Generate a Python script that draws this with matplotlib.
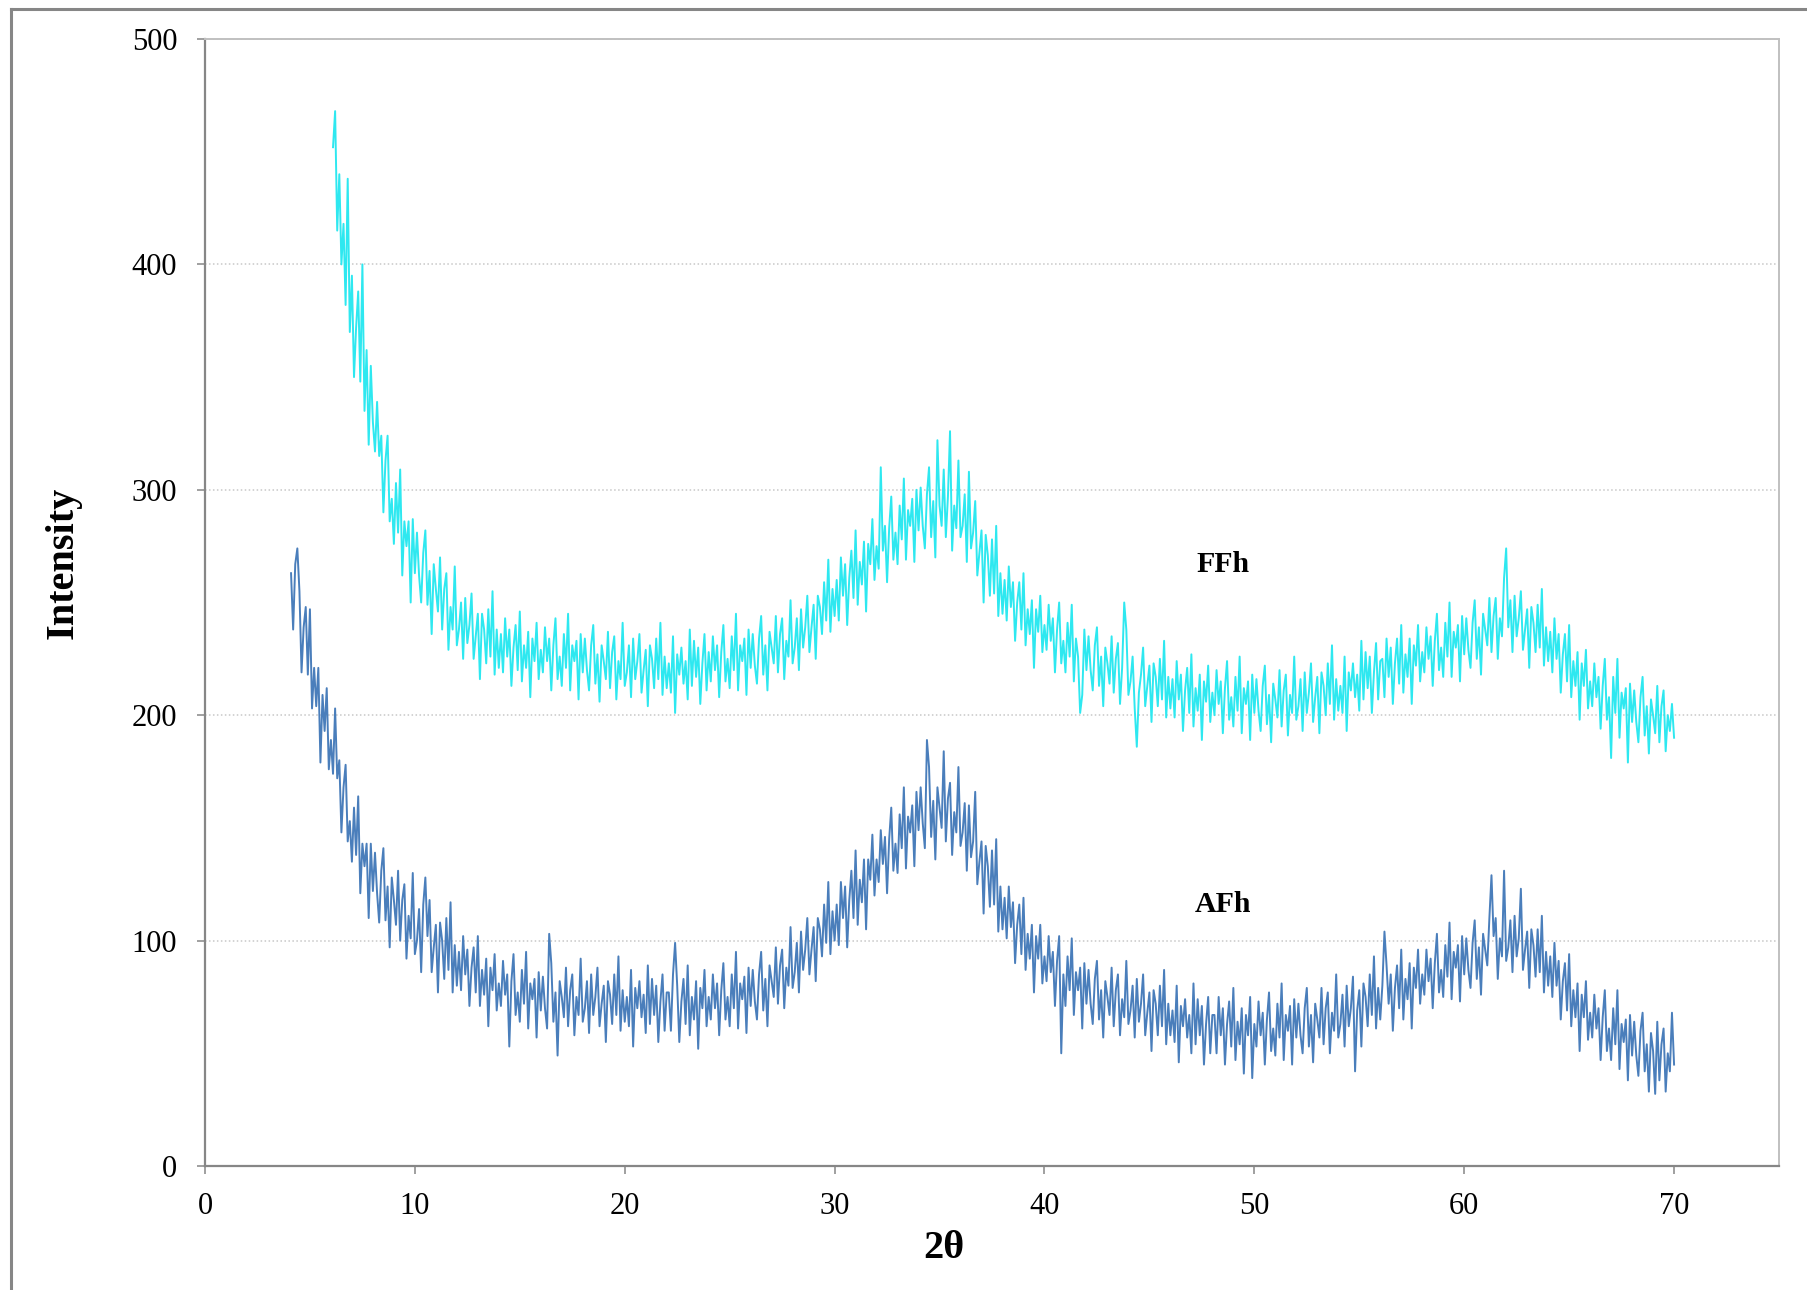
import numpy as np
import matplotlib
matplotlib.use("Agg")
import matplotlib.pyplot as plt
from matplotlib.lines import Line2D

# XRD scans, step 0.1 deg 2theta, intensities
ffh_start = 6.1
ffh_int = [
    452, 468, 415, 440, 400, 418, 382, 438, 370, 395, 350, 372, 388, 348, 400, 335, 362, 320, 355, 330,
    317, 339, 315, 324, 290, 313, 324, 286, 296, 276, 303, 281, 309, 262, 286, 275, 286, 250, 287, 263,
    281, 262, 250, 272, 282, 249, 264, 236, 267, 256, 246, 270, 238, 256, 263, 229, 248, 238, 266, 231,
    238, 250, 225, 252, 232, 240, 254, 225, 235, 245, 216, 245, 238, 223, 247, 226, 255, 218, 238, 221,
    236, 219, 243, 226, 238, 213, 230, 240, 220, 246, 215, 231, 221, 237, 208, 234, 224, 241, 216, 229,
    219, 239, 224, 234, 211, 231, 243, 216, 226, 213, 236, 221, 245, 211, 231, 224, 233, 207, 236, 219,
    234, 220, 211, 231, 240, 214, 227, 206, 231, 224, 216, 237, 212, 228, 235, 207, 224, 216, 241, 213,
    219, 231, 208, 234, 216, 224, 236, 210, 220, 229, 204, 231, 225, 212, 234, 216, 241, 209, 226, 212,
    223, 210, 235, 201, 227, 218, 230, 214, 224, 207, 238, 213, 233, 217, 230, 205, 223, 236, 211, 228,
    215, 235, 220, 231, 208, 228, 240, 215, 225, 212, 235, 220, 245, 211, 231, 224, 234, 209, 238, 221,
    236, 222, 214, 234, 244, 218, 231, 211, 237, 230, 223, 244, 219, 236, 243, 216, 233, 226, 251, 223,
    230, 243, 220, 247, 230, 239, 253, 228, 239, 249, 225, 253, 248, 236, 259, 242, 269, 237, 256, 244,
    260, 242, 270, 253, 267, 240, 261, 273, 252, 282, 249, 268, 258, 277, 246, 276, 267, 287, 260, 275,
    265, 310, 273, 284, 259, 283, 297, 269, 281, 267, 293, 278, 305, 269, 291, 284, 296, 268, 300, 282,
    301, 284, 274, 298, 310, 279, 295, 270, 322, 293, 284, 309, 279, 297, 326, 273, 293, 283, 313, 279,
    284, 298, 268, 308, 274, 281, 295, 262, 272, 282, 250, 280, 271, 253, 278, 254, 284, 244, 263, 245,
    260, 242, 266, 248, 259, 233, 250, 259, 238, 263, 231, 247, 236, 251, 221, 247, 237, 253, 228, 240,
    229, 249, 233, 243, 219, 238, 250, 223, 233, 219, 241, 226, 249, 215, 234, 226, 201, 209, 238, 220,
    235, 220, 211, 231, 239, 213, 226, 204, 230, 223, 214, 235, 210, 225, 232, 205, 221, 250, 238, 209,
    215, 226, 203, 186, 210, 218, 230, 204, 213, 222, 197, 223, 217, 204, 225, 207, 233, 199, 217, 203,
    216, 199, 224, 207, 218, 193, 211, 221, 201, 227, 195, 212, 202, 218, 189, 215, 206, 222, 197, 210,
    200, 220, 205, 215, 192, 212, 224, 198, 208, 195, 217, 202, 226, 192, 212, 205, 215, 189, 218, 201,
    216, 202, 193, 213, 222, 196, 209, 188, 214, 207, 199, 220, 195, 211, 218, 191, 209, 201, 226, 198,
    204, 216, 193, 219, 201, 210, 223, 197, 208, 217, 192, 219, 213, 200, 223, 205, 231, 198, 216, 202,
    213, 201, 226, 193, 219, 211, 223, 208, 218, 202, 233, 207, 228, 212, 226, 201, 219, 232, 207, 224,
    225, 208, 234, 217, 230, 205, 223, 234, 214, 240, 210, 227, 217, 234, 205, 231, 222, 240, 215, 228,
    219, 239, 225, 235, 213, 233, 245, 220, 230, 217, 241, 226, 250, 217, 237, 230, 240, 215, 244, 227,
    243, 229, 221, 241, 251, 225, 239, 218, 245, 238, 231, 252, 228, 244, 252, 225, 243, 235, 261, 274,
    239, 251, 228, 253, 235, 243, 255, 229, 238, 247, 221, 248, 241, 228, 249, 230, 256, 222, 239, 224,
    237, 219, 243, 225, 236, 210, 227, 236, 215, 240, 208, 224, 213, 228, 198, 223, 213, 229, 203, 215,
    204, 223, 208, 217, 194, 213, 225, 198, 208, 181, 217, 201, 225, 190, 210, 203, 212, 179, 214, 197,
    211, 197, 188, 208, 217, 191, 204, 183, 207, 200, 192, 213, 188, 204, 211, 184, 200, 193, 205, 190,
]

afh_start = 4.1
afh_int = [
    263, 238, 267, 274, 255, 219, 239, 248, 218, 247, 203, 221, 204, 221, 179, 209, 193, 212, 176, 189,
    174, 203, 172, 180, 148, 168, 178, 144, 153, 135, 159, 138, 164, 121, 143, 133, 143, 110, 143, 122,
    139, 121, 108, 131, 141, 109, 124, 97, 128, 118, 107, 131, 100, 118, 125, 92, 111, 101, 130, 94,
    100, 114, 86, 116, 128, 102, 118, 86, 97, 107, 77, 108, 100, 83, 110, 87, 117, 77, 98, 80,
    95, 78, 102, 85, 96, 71, 88, 97, 77, 102, 71, 87, 76, 92, 62, 88, 78, 94, 69, 81,
    71, 91, 76, 85, 53, 82, 94, 67, 77, 64, 87, 72, 95, 61, 81, 74, 83, 57, 86, 69,
    84, 70, 61, 103, 90, 64, 77, 49, 82, 75, 66, 88, 62, 78, 85, 58, 75, 67, 92, 64,
    70, 82, 59, 85, 67, 75, 88, 62, 72, 80, 55, 82, 76, 63, 85, 67, 93, 60, 78, 64,
    75, 62, 87, 53, 79, 70, 82, 66, 76, 59, 89, 63, 83, 67, 80, 55, 73, 85, 60, 77,
    77, 60, 85, 99, 80, 55, 73, 83, 63, 89, 58, 75, 65, 82, 52, 79, 70, 87, 62, 75,
    65, 85, 70, 81, 58, 78, 90, 65, 75, 62, 85, 70, 95, 61, 81, 74, 84, 59, 88, 71,
    87, 73, 65, 85, 95, 69, 83, 62, 89, 82, 75, 97, 72, 89, 96, 70, 88, 80, 106, 79,
    86, 99, 77, 104, 87, 96, 110, 85, 96, 106, 82, 110, 105, 93, 116, 99, 126, 94, 113, 100,
    116, 98, 126, 110, 124, 97, 118, 131, 110, 140, 107, 127, 117, 136, 105, 136, 127, 147, 120, 136,
    126, 149, 134, 146, 121, 145, 159, 131, 143, 130, 156, 141, 168, 132, 155, 148, 160, 133, 166, 149,
    168, 152, 141, 189, 177, 146, 162, 136, 168, 159, 150, 184, 144, 163, 170, 138, 157, 148, 177, 142,
    148, 161, 131, 160, 137, 144, 166, 125, 135, 144, 112, 142, 133, 115, 140, 116, 145, 104, 124, 105,
    119, 101, 124, 106, 117, 90, 107, 116, 94, 119, 87, 103, 92, 107, 77, 102, 92, 107, 81, 93,
    82, 102, 86, 95, 71, 91, 102, 50, 85, 71, 93, 78, 101, 67, 86, 78, 88, 61, 90, 72,
    87, 72, 63, 83, 91, 65, 78, 57, 82, 75, 67, 88, 62, 78, 85, 58, 74, 66, 91, 63,
    69, 80, 57, 83, 64, 72, 85, 58, 68, 77, 51, 78, 72, 58, 80, 62, 87, 54, 72, 58,
    69, 55, 80, 46, 71, 62, 74, 57, 67, 50, 81, 54, 74, 58, 71, 45, 63, 75, 50, 67,
    67, 50, 75, 58, 70, 45, 63, 73, 53, 79, 47, 64, 54, 70, 41, 67, 58, 75, 39, 63,
    53, 73, 58, 68, 45, 65, 77, 51, 61, 49, 72, 57, 81, 47, 67, 60, 71, 45, 74, 57,
    72, 58, 50, 70, 79, 53, 67, 46, 72, 65, 57, 79, 54, 70, 77, 50, 68, 60, 85, 57,
    63, 76, 53, 80, 62, 70, 84, 42, 69, 78, 53, 81, 75, 62, 85, 67, 93, 61, 79, 65,
    80, 104, 89, 72, 85, 60, 79, 89, 70, 96, 65, 83, 74, 90, 61, 88, 79, 96, 72, 85,
    76, 96, 82, 92, 70, 90, 103, 77, 87, 75, 98, 84, 108, 74, 95, 88, 98, 73, 102, 85,
    101, 87, 79, 99, 109, 83, 97, 76, 103, 96, 89, 110, 129, 102, 110, 83, 101, 93, 131, 91,
    97, 109, 86, 111, 93, 101, 123, 87, 96, 104, 79, 105, 98, 84, 105, 86, 111, 77, 95, 80,
    93, 75, 99, 80, 91, 65, 82, 90, 69, 94, 62, 78, 66, 81, 51, 76, 66, 82, 56, 68,
    57, 76, 61, 70, 47, 66, 78, 51, 61, 47, 70, 54, 78, 43, 63, 55, 65, 38, 67, 49,
    64, 49, 40, 60, 68, 42, 54, 33, 59, 51, 32, 64, 38, 54, 61, 33, 50, 42, 68, 45,
]

step = 0.1
ffh_2theta = ffh_start + step * np.arange(len(ffh_int))
afh_2theta = afh_start + step * np.arange(len(afh_int))

x_ticks = [0, 10, 20, 30, 40, 50, 60, 70]
y_ticks = [0, 100, 200, 300, 400, 500]

plt.rcParams['font.family'] = ['Liberation Serif', 'DejaVu Serif']

fig = plt.figure(figsize=(18.07, 12.9), dpi=100)
ax = fig.add_axes([205 / 1807, 124 / 1290, 1574 / 1807, 1127 / 1290])

# chart border (cut off at right and bottom in the original)
fig.add_artist(Line2D([10.5 / 1807, 10.5 / 1807], [0, 1 - 9 / 1290], transform=fig.transFigure,
                      color='#868686', lw=2.2))
fig.add_artist(Line2D([10.5 / 1807, 1.0], [1 - 9 / 1290, 1 - 9 / 1290], transform=fig.transFigure,
                      color='#868686', lw=2.2))

ax.plot(afh_2theta, afh_int, color='#4A7EBB', lw=1.4)
ax.plot(ffh_2theta, ffh_int, color='#2EE8F0', lw=1.4)

ax.set_xlim(0, 75)
ax.set_ylim(0, 500)
ax.set_xticks(x_ticks)
ax.set_yticks(y_ticks)
ax.tick_params(axis='both', direction='out', length=6, width=1.1, color='#868686',
               labelsize=22, labelcolor='black')
ax.tick_params(axis='y', pad=14)
ax.tick_params(axis='x', pad=13)

ax.yaxis.grid(True, linestyle=(0, (1, 1.6)), color='#C8C8C8', lw=1.1)
ax.set_axisbelow(True)

for side in ['left', 'bottom']:
    ax.spines[side].set_color('#868686')
    ax.spines[side].set_linewidth(1.6)
for side in ['top', 'right']:
    ax.spines[side].set_color('#C0C0C0')
    ax.spines[side].set_linewidth(1.4)

ax.set_xlabel('2θ', fontsize=29, fontweight='bold', va='center')
ax.xaxis.set_label_coords(0.4695, -0.0728)
ax.set_ylabel('Intensity', fontsize=29, fontweight='bold', va='center')
ax.yaxis.set_label_coords(-0.0902, 0.535)

ax.text(48.5, 267, 'FFh', fontsize=21.5, fontweight='bold', ha='center', va='center')
ax.text(48.5, 116, 'AFh', fontsize=21.5, fontweight='bold', ha='center', va='center')

plt.savefig('out.png', dpi=100, facecolor='white')
